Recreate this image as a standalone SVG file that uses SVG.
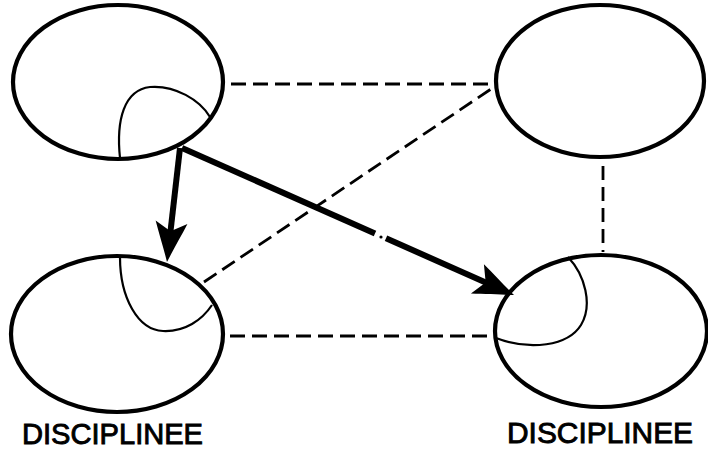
<svg xmlns="http://www.w3.org/2000/svg" width="708" height="455" viewBox="0 0 708 455">
  <style>
    .ring { fill: none; stroke: #000; stroke-width: 4.2; }
    .inner { fill: none; stroke: #000; stroke-width: 2.2; }
    .dash { fill: none; stroke: #000; stroke-width: 2.8; stroke-dasharray: 15 7; }
    .bold { fill: none; stroke: #000; stroke-width: 6; }
    .label { font-family: "Liberation Sans", Arial, sans-serif; font-size: 29px; fill: #000; stroke: #000; stroke-width: 0.9; }
  </style>
  <defs>
    <marker id="head" markerUnits="userSpaceOnUse" markerWidth="44" markerHeight="34" viewBox="0 0 44 34" refX="27" refY="17" orient="auto">
      <path d="M42,17 C31,13 15,6 2,1 L11,17 L2,33 C15,28 31,21 42,17 Z" fill="#000"/>
    </marker>
  </defs>

  <!-- links -->
  <g id="connectors">
    <line class="dash" x1="231" y1="84" x2="495" y2="84"/>
    <line class="dash" x1="230" y1="336" x2="495" y2="336"/>
    <line class="dash" x1="204" y1="282" x2="497" y2="85"/>
    <line class="dash" x1="603" y1="166" x2="603" y2="252" style="stroke-dasharray: 14 7"/>
    <line class="bold" x1="180" y1="148" x2="168.7" y2="247.1" marker-end="url(#head)"/>
    <line class="bold" x1="182" y1="148" x2="375" y2="233.4"/>
    <circle cx="381" cy="237" r="1.6" fill="#000"/>
    <line class="bold" x1="386" y1="238.3" x2="500.3" y2="288.9" marker-end="url(#head)"/>
  </g>

  <g id="top-left">
    <ellipse class="ring" cx="118" cy="82" rx="105" ry="77"/>
    <path class="inner" d="M120,158 C116,120 124,90 150,87 C175,85 200,100 210,117"/>
  </g>

  <g id="top-right">
    <ellipse class="ring" cx="600" cy="81" rx="104" ry="76"/>
  </g>

  <g id="bottom-left">
    <ellipse class="ring" cx="117" cy="334" rx="106" ry="78"/>
    <path class="inner" d="M120,257 C120,298 138,330 163,331 C185,332 202,320 212,305"/>
    <text class="label" x="22" y="444" textLength="181" lengthAdjust="spacingAndGlyphs">DISCIPLINEE</text>
  </g>

  <g id="bottom-right">
    <ellipse class="ring" cx="601" cy="331" rx="106" ry="76"/>
    <path class="inner" d="M568,257 C585,275 593,305 581,325 C568,346 530,351 496,338"/>
    <text class="label" x="507" y="443" textLength="186" lengthAdjust="spacingAndGlyphs">DISCIPLINEE</text>
  </g>
</svg>
